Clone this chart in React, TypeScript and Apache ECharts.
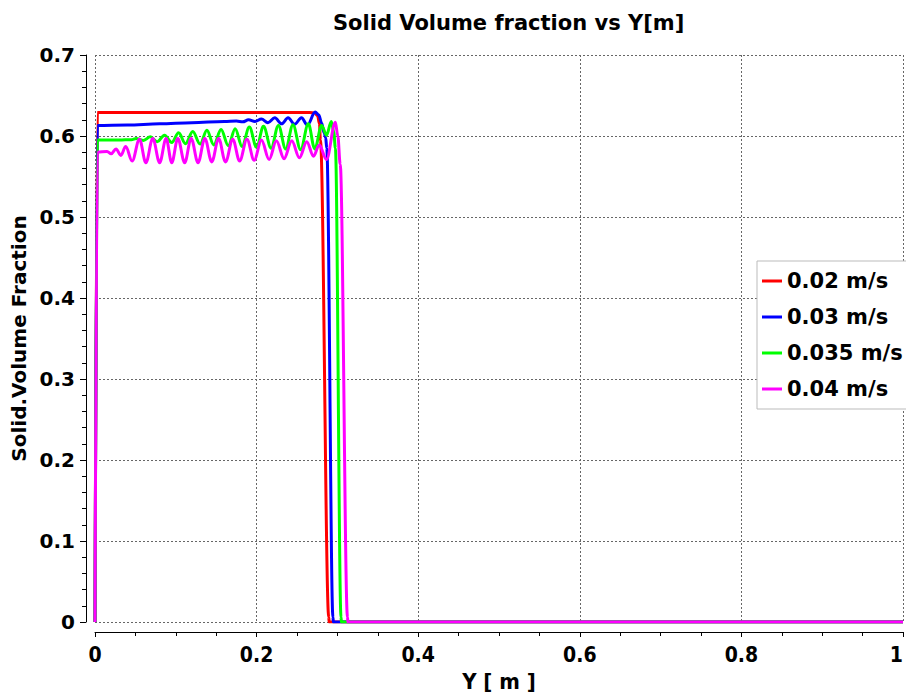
import React, { useEffect, useRef } from "react";
import * as echarts from "echarts";

const chartTitle = "Solid Volume fraction vs Y[m]";
const xAxisTitle = "Y [ m ]";
const yAxisTitle = "Solid.Volume Fraction";
const seriesNames = ["0.02 m/s", "0.03 m/s", "0.035 m/s", "0.04 m/s"];
const seriesColors = ["#ff0000", "#0000ff", "#00ff00", "#ff00ff"];

// [Y (m), solid volume fraction]
const v002: [number, number][] = [
  [0, 0], [0.003, 0.629], [0.1, 0.629], [0.2, 0.629], [0.266, 0.629], [0.272, 0.6285],
  [0.2755, 0.625], [0.2778, 0.615], [0.279, 0.595], [0.2893, 0.006], [0.2898, 0],
  [0.293, 0], [1, 0],
];

const v003: [number, number][] = [
  [0, 0], [0.003, 0.613], [0.04, 0.6135], [0.08, 0.615], [0.12, 0.6165], [0.16, 0.618],
  [0.175, 0.6185], [0.183, 0.6175], [0.19, 0.62], [0.198, 0.618], [0.206, 0.621],
  [0.214, 0.6165], [0.2225, 0.6225], [0.231, 0.615], [0.239, 0.6225], [0.247, 0.6145],
  [0.2555, 0.6225], [0.263, 0.6135], [0.2725, 0.6295], [0.277, 0.626], [0.2805, 0.616],
  [0.2835, 0.604], [0.2855, 0.598], [0.2868, 0.585], [0.2945, 0.006], [0.295, 0],
  [0.298, 0], [1, 0],
];

const v0035: [number, number][] = [
  [0, 0], [0.003, 0.595], [0.03, 0.595], [0.045, 0.5955], [0.051, 0.597], [0.06, 0.5945],
  [0.0685, 0.599], [0.077, 0.593], [0.086, 0.601], [0.095, 0.592], [0.1035, 0.604],
  [0.112, 0.5905], [0.121, 0.6055], [0.13, 0.59], [0.1385, 0.607], [0.147, 0.589],
  [0.156, 0.608], [0.165, 0.588], [0.1735, 0.609], [0.182, 0.587], [0.191, 0.611],
  [0.2, 0.586], [0.2085, 0.612], [0.218, 0.585], [0.227, 0.613], [0.236, 0.584],
  [0.245, 0.614], [0.2545, 0.583], [0.264, 0.615], [0.272, 0.584], [0.2805, 0.613],
  [0.2865, 0.601], [0.2925, 0.618], [0.2955, 0.605], [0.2975, 0.585], [0.3045, 0.006],
  [0.305, 0], [0.308, 0], [1, 0],
];

const v004: [number, number][] = [
  [0, 0], [0.003, 0.58], [0.015, 0.581], [0.02, 0.578], [0.026, 0.584], [0.032, 0.576],
  [0.038, 0.587], [0.046, 0.569], [0.055, 0.596], [0.063, 0.567], [0.0715, 0.597],
  [0.08, 0.567], [0.088, 0.597], [0.095, 0.567], [0.1025, 0.597], [0.111, 0.567],
  [0.119, 0.597], [0.1275, 0.567], [0.136, 0.597], [0.1445, 0.568], [0.153, 0.597],
  [0.1615, 0.568], [0.1705, 0.596], [0.179, 0.569], [0.188, 0.596], [0.197, 0.57],
  [0.206, 0.595], [0.2155, 0.571], [0.2245, 0.594], [0.234, 0.572], [0.2435, 0.594],
  [0.253, 0.573], [0.262, 0.593], [0.2705, 0.575], [0.2775, 0.589], [0.2865, 0.571],
  [0.2975, 0.617], [0.3005, 0.6], [0.3035, 0.565], [0.3125, 0.006], [0.313, 0],
  [0.316, 0], [1, 0],
];

const seriesData = [v002, v003, v0035, v004];

const FONT = "DejaVu Sans";
const FONT_C = "DejaVu Sans Condensed";

export default function App() {
  const ref = useRef<HTMLDivElement>(null);
  useEffect(() => {
    const chart = echarts.init(ref.current!, undefined, { renderer: "svg" });
    chart.setOption({
      animation: false,
      backgroundColor: "#ffffff",
      title: {
        text: chartTitle,
        left: 328,
        top: 7,
        textStyle: { fontFamily: FONT, fontWeight: "bold", fontSize: 21, color: "#000" },
      },
      legend: {
        orient: "vertical",
        left: 757,
        top: 261,
        icon: "rect",
        itemWidth: 20,
        itemHeight: 3,
        itemGap: 12,
        padding: [8, 14, 8, 5],
        borderColor: "#bbbbbb",
        borderWidth: 1,
        backgroundColor: "#ffffff",
        textStyle: { fontFamily: FONT, fontWeight: "bold", fontSize: 21, color: "#000", lineHeight: 24 },
        data: seriesNames,
      },
      grid: { left: 95, right: 3, top: 55, bottom: 74, containLabel: false, outerBoundsMode: "none" },
      xAxis: {
        type: "value",
        min: 0,
        max: 1,
        interval: 0.2,
        offset: 10,
        name: xAxisTitle,
        nameLocation: "middle",
        nameGap: 38,
        nameTextStyle: { fontFamily: FONT_C, fontWeight: "bold", fontSize: 22, color: "#000" },
        axisLine: { show: true, onZero: false, lineStyle: { color: "#000", width: 1 } },
        axisTick: { show: true, length: 5, lineStyle: { color: "#000" } },
        minorTick: { show: true, splitNumber: 4, length: 4, lineStyle: { color: "#000" } },
        axisLabel: {
          margin: 12,
          fontFamily: FONT_C,
          fontWeight: "bold",
          fontSize: 21,
          color: "#000",
          alignMaxLabel: "right",
        },
        splitLine: { show: true, lineStyle: { color: "#666", width: 1, type: [2, 2] } },
      },
      yAxis: {
        type: "value",
        min: 0,
        max: 0.7,
        interval: 0.1,
        offset: 9,
        name: yAxisTitle,
        nameLocation: "middle",
        nameGap: 38,
        nameTextStyle: { fontFamily: FONT, fontWeight: "bold", fontSize: 20, color: "#000" },
        axisLine: { show: true, onZero: false, lineStyle: { color: "#000", width: 1 } },
        axisTick: { show: true, length: 6, lineStyle: { color: "#000" } },
        minorTick: { show: true, splitNumber: 5, length: 4, lineStyle: { color: "#000" } },
        axisLabel: { margin: 11, fontFamily: FONT, fontWeight: "bold", fontSize: 20, color: "#000" },
        splitLine: { show: true, lineStyle: { color: "#666", width: 1, type: [2, 2] } },
      },
      series: seriesNames.map((name, i) => ({
        name,
        type: "line",
        data: seriesData[i],
        showSymbol: false,
        symbol: "none",
        smooth: 0.35,
        smoothMonotone: "x",
        color: seriesColors[i],
        lineStyle: { color: seriesColors[i], width: 3 },
        z: 2 + i,
      })),
    });
    return () => chart.dispose();
  }, []);
  return (
    <div
      ref={ref}
      style={{ position: "fixed", left: 0, top: 0, width: 906, height: 696, background: "#fff" }}
    />
  );
}
